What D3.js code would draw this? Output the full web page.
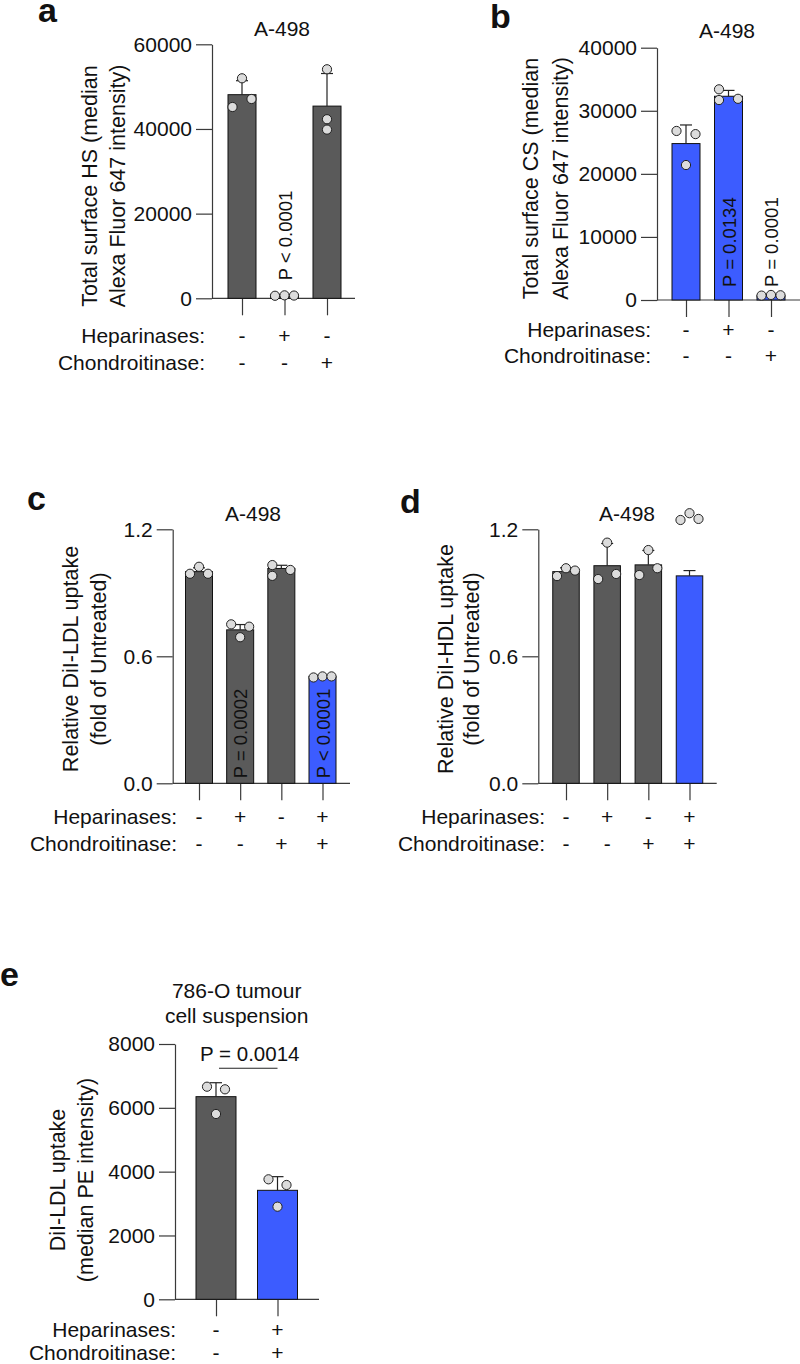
<!DOCTYPE html>
<html>
<head>
<meta charset="utf-8">
<script src="https://cdn.jsdelivr.net/npm/d3@7/dist/d3.min.js"></script>
<style>
  body { margin: 0; background: #fff; }
  text { font-family: "Liberation Sans", Arial, Helvetica, sans-serif; fill: #111; }
</style>
</head>
<body>
<svg id="fig" width="800" height="1364"></svg>
<script>

// ################  DATA  ################

// panel a - total surface HS
var catsA = ['untreated', 'hep', 'chon'];
var meansA = [48100, 700, 45400];
var sdA = [3300, 100, 7700];
var pointsA = [[51970, 45190, 47080], [600, 700, 650], [54100, 42300, 39850]];
var hepA = ['-', '+', '-'];
var chonA = ['-', '-', '+'];
var pvalA = [null, 'P < 0.0001', null];
var ticksA = [0, 20000, 40000, 60000];

// panel b - total surface CS
var catsB = ['untreated', 'hep', 'chon'];
var meansB = [24800, 32300, 700];
var sdB = [2950, 930, 100];
var pointsB = [[26800, 26300, 21400], [31700, 33400, 31900], [700, 800, 750]];
var hepB = ['-', '+', '-'];
var chonB = ['-', '-', '+'];
var pvalB = [null, 'P = 0.0134', 'P = 0.0001'];
var ticksB = [0, 10000, 20000, 30000, 40000];

// panel c - DiI-LDL uptake
var catsC = ['untreated', 'hep', 'chon', 'both'];
var meansC = [1.0, 0.725, 1.015, 0.505];
var sdC = [0.018, 0.025, 0.015, 0.005];
var pointsC = [[0.99, 1.023, 0.99], [0.751, 0.74, 0.69], [1.031, 1.008, 0.98], [0.50, 0.505, 0.505]];
var hepC = ['-', '+', '-', '+'];
var chonC = ['-', '-', '+', '+'];
var pvalC = [null, 'P = 0.0002', null, 'P < 0.0001'];
var ticksC = [0, 0.6, 1.2];

// panel d - DiI-HDL uptake
var catsD = ['untreated', 'hep', 'chon', 'both'];
var meansD = [1.0, 1.028, 1.032, 0.98];
var sdD = [0.018, 0.105, 0.068, 0.025];
var pointsD = [[0.979, 1.016, 1.005], [1.137, 0.965, 0.989], [1.102, 0.984, 1.016], [1.244, 1.276, 1.249]];
var hepD = ['-', '+', '-', '+'];
var chonD = ['-', '-', '+', '+'];
var pvalD = [null, null, null, null];
var ticksD = [0, 0.6, 1.2];

// panel e - 786-O tumour cell suspension
var catsE = ['untreated', 'both'];
var meansE = [6350, 3415];
var sdE = [437, 428];
var pointsE = [[6662, 6580, 5807], [3760, 3582, 2902]];
var hepE = ['-', '+'];
var chonE = ['-', '+'];
var pvalE = [null, null];
var ticksE = [0, 2000, 4000, 6000, 8000];
var sigLevelE = 7240;
var sigLabelE = 'P = 0.0014';

// ################  STYLE  ################
var GRAY = '#5a5a5a';
var BLUE = '#3c5cff';
var AXIS = '#3a3a3a';
var FONT = 21;

var svg = d3.select('#fig');

// simple GraphPad-like scatter spreading of overlapping points
function swarm(vals, y, r, step) {
  var ys = vals.map(function (v) { return y(v); });
  var order = d3.range(vals.length).sort(function (a, b) { return ys[a] - ys[b]; });
  var groups = [], cur = [order[0]];
  for (var k = 1; k < order.length; k++) {
    if (ys[order[k]] - ys[order[k - 1]] < 2 * r) cur.push(order[k]);
    else { groups.push(cur); cur = [order[k]]; }
  }
  groups.push(cur);
  var off = vals.map(function () { return 0; });
  groups.forEach(function (grp) {
    if (grp.length === 1) return;
    var span = ys[grp[grp.length - 1]] - ys[grp[0]];
    var byData = grp.slice().sort(d3.ascending);
    if (grp.length === 2) {
      off[byData[0]] = -step; off[byData[1]] = step;
    } else if (span < 2 * r) {
      byData.forEach(function (idx, j) { off[idx] = (j - (byData.length - 1) / 2) * step; });
    } else {
      grp.forEach(function (idx, j) { off[idx] = (j % 2 ? 1 : -1) * step; });
    }
  });
  return off;
}

function styleAxis(sel) {
  sel.selectAll('path,line').attr('stroke', AXIS).attr('stroke-width', 1.2);
  sel.selectAll('text').attr('font-size', FONT).attr('fill', '#111')
    .style('font-family', '"Liberation Sans", Arial, Helvetica, sans-serif');
}

function drawPanel(p) {
  var g = svg.append('g').attr('class', 'panel-' + p.letter);

  var y = d3.scaleLinear().domain([0, p.yMax]).range([p.y0, p.yTop]);
  var x = d3.scalePoint().domain(p.cats).range(p.xRange);

  // y axis
  g.append('g')
    .attr('transform', 'translate(' + p.axisX + ',0)')
    .call(d3.axisLeft(y).tickValues(p.ticks).tickFormat(d3.format(p.fmt))
      .tickSize(16).tickPadding(4).tickSizeOuter(0))
    .call(styleAxis);

  // x axis line and downward ticks
  g.append('line')
    .attr('x1', p.axisX).attr('x2', p.xEnd).attr('y1', p.y0).attr('y2', p.y0)
    .attr('stroke', AXIS).attr('stroke-width', 1.2);
  g.append('g')
    .attr('transform', 'translate(0,' + p.y0 + ')')
    .call(d3.axisBottom(x).tickSize(17).tickFormat('').tickSizeOuter(0))
    .call(function (s) { s.select('.domain').remove(); })
    .call(styleAxis);

  // bars
  g.selectAll('rect.bar').data(p.means).join('rect')
    .attr('class', 'bar')
    .attr('x', function (d, i) { return x(p.cats[i]) - p.barW / 2; })
    .attr('y', function (d) { return y(d); })
    .attr('width', p.barW)
    .attr('height', function (d) { return y(0) - y(d); })
    .attr('fill', function (d, i) { return p.colors[i]; })
    .attr('stroke', '#111').attr('stroke-width', 1);

  // upper error bars
  var err = g.selectAll('g.err').data(p.means).join('g').attr('class', 'err');
  err.append('line')
    .attr('x1', function (d, i) { return x(p.cats[i]); })
    .attr('x2', function (d, i) { return x(p.cats[i]); })
    .attr('y1', function (d) { return y(d); })
    .attr('y2', function (d, i) { return y(d + p.sd[i]); });
  err.append('line')
    .attr('x1', function (d, i) { return x(p.cats[i]) - 6; })
    .attr('x2', function (d, i) { return x(p.cats[i]) + 6; })
    .attr('y1', function (d, i) { return y(d + p.sd[i]); })
    .attr('y2', function (d, i) { return y(d + p.sd[i]); });
  err.selectAll('line').attr('stroke', '#222').attr('stroke-width', 1.2);

  // individual points
  p.points.forEach(function (vals, i) {
    var off = swarm(vals, y, 4.75, p.step);
    g.selectAll(null).data(vals).join('circle')
      .attr('cx', function (d, j) { return x(p.cats[i]) + off[j]; })
      .attr('cy', function (d) { return y(d); })
      .attr('r', 4.6)
      .attr('fill', '#dcdcdc').attr('stroke', '#222').attr('stroke-width', 1);
  });

  // rotated p values
  p.pvals.forEach(function (t, i) {
    if (!t) return;
    g.append('text')
      .attr('transform', 'translate(' + (x(p.cats[i]) + 7) + ',' + (p.y0 - p.pGap) + ') rotate(-90)')
      .attr('font-size', 18.5)
      .text(t);
  });

  // title
  p.title.forEach(function (t, k) {
    g.append('text')
      .attr('x', p.titleX).attr('y', p.titleY[k])
      .attr('text-anchor', 'middle').attr('font-size', FONT)
      .text(t);
  });

  // y axis label
  p.yLabel.forEach(function (t, k) {
    g.append('text')
      .attr('transform', 'translate(' + p.yLabelX[k] + ',' + p.yLabelY + ') rotate(-90)')
      .attr('text-anchor', 'middle').attr('font-size', 21.5)
      .text(t);
  });

  // treatment rows
  [['Heparinases:', p.hep], ['Chondroitinase:', p.chon]].forEach(function (row, k) {
    g.append('text')
      .attr('x', p.rowLabelX).attr('y', p.rowY[k])
      .attr('text-anchor', 'end').attr('font-size', FONT)
      .text(row[0]);
    g.selectAll(null).data(row[1]).join('text')
      .attr('x', function (d, i) { return x(p.cats[i]); })
      .attr('y', p.rowY[k])
      .attr('text-anchor', 'middle').attr('font-size', FONT)
      .text(function (d) { return d; });
  });

  // panel letter
  g.append('text')
    .attr('x', p.letterX).attr('y', p.letterY)
    .attr('font-size', 34).attr('font-weight', 'bold')
    .text(p.letter);

  return { g: g, x: x, y: y };
}

// ################  PANELS  ################

drawPanel({
  letter: 'a', letterX: 38, letterY: 22,
  cats: catsA, means: meansA, sd: sdA, points: pointsA, hep: hepA, chon: chonA, pvals: pvalA,
  ticks: ticksA, fmt: 'd', yMax: 60000,
  axisX: 212, xEnd: 355, yTop: 44.3, y0: 298.3, xRange: [242, 327], barW: 28, step: 9.5,
  colors: [GRAY, GRAY, GRAY], pGap: 18,
  title: ['A-498'], titleX: 282, titleY: [36],
  yLabel: ['Total surface HS (median', 'Alexa Fluor 647 intensity)'], yLabelX: [97, 125], yLabelY: 186,
  rowLabelX: 205, rowY: [343, 370]
});

drawPanel({
  letter: 'b', letterX: 490, letterY: 28,
  cats: catsB, means: meansB, sd: sdB, points: pointsB, hep: hepB, chon: chonB, pvals: pvalB,
  ticks: ticksB, fmt: 'd', yMax: 40000,
  axisX: 657, xEnd: 800, yTop: 47.7, y0: 300, xRange: [686, 771], barW: 28, step: 9.5,
  colors: [BLUE, BLUE, BLUE], pGap: 13,
  title: ['A-498'], titleX: 727, titleY: [38],
  yLabel: ['Total surface CS (median', 'Alexa Fluor 647 intensity)'], yLabelX: [538, 568], yLabelY: 178.5,
  rowLabelX: 651, rowY: [337, 363]
});

drawPanel({
  letter: 'c', letterX: 27, letterY: 510,
  cats: catsC, means: meansC, sd: sdC, points: pointsC, hep: hepC, chon: chonC, pvals: pvalC,
  ticks: ticksC, fmt: '.1f', yMax: 1.2,
  axisX: 172.7, xEnd: 350, yTop: 529.3, y0: 783.3, xRange: [199, 322.5], barW: 27, step: 9,
  colors: [GRAY, GRAY, GRAY, BLUE], pGap: 5,
  title: ['A-498'], titleX: 253, titleY: [520.5],
  yLabel: ['Relative DiI-LDL uptake', '(fold of Untreated)'], yLabelX: [78, 106], yLabelY: 659,
  rowLabelX: 177, rowY: [824, 850.7]
});

drawPanel({
  letter: 'd', letterX: 400, letterY: 513,
  cats: catsD, means: meansD, sd: sdD, points: pointsD, hep: hepD, chon: chonD, pvals: pvalD,
  ticks: ticksD, fmt: '.1f', yMax: 1.2,
  axisX: 538.3, xEnd: 716.7, yTop: 529.3, y0: 783.3, xRange: [566, 689.5], barW: 26.5, step: 9,
  colors: [GRAY, GRAY, GRAY, BLUE], pGap: 5,
  title: ['A-498'], titleX: 627, titleY: [520.5],
  yLabel: ['Relative DiI-HDL uptake', '(fold of Untreated)'], yLabelX: [453, 479], yLabelY: 659,
  rowLabelX: 545, rowY: [824, 850.7]
});

var pe = drawPanel({
  letter: 'e', letterX: 0, letterY: 985.5,
  cats: catsE, means: meansE, sd: sdE, points: pointsE, hep: hepE, chon: chonE, pvals: pvalE,
  ticks: ticksE, fmt: 'd', yMax: 8000,
  axisX: 175, xEnd: 319, yTop: 1044, y0: 1299.3, xRange: [216, 277.5], barW: 40, step: 9,
  colors: [GRAY, BLUE], pGap: 5,
  title: ['786-O tumour', 'cell suspension'], titleX: 236.7, titleY: [998, 1023],
  yLabel: ['DiI-LDL uptake', '(median PE intensity)'], yLabelX: [65, 93], yLabelY: 1180,
  rowLabelX: 176, rowY: [1336.7, 1360]
});

// significance bracket in panel e
pe.g.append('line')
  .attr('x1', pe.x(catsE[0]) + 3).attr('x2', pe.x(catsE[1]))
  .attr('y1', pe.y(sigLevelE)).attr('y2', pe.y(sigLevelE))
  .attr('stroke', '#222').attr('stroke-width', 1.2);
pe.g.append('text')
  .attr('x', (pe.x(catsE[0]) + pe.x(catsE[1])) / 2 + 3)
  .attr('y', pe.y(sigLevelE) - 7.6)
  .attr('text-anchor', 'middle').attr('font-size', 20.5)
  .text(sigLabelE);

</script>
</body>
</html>
